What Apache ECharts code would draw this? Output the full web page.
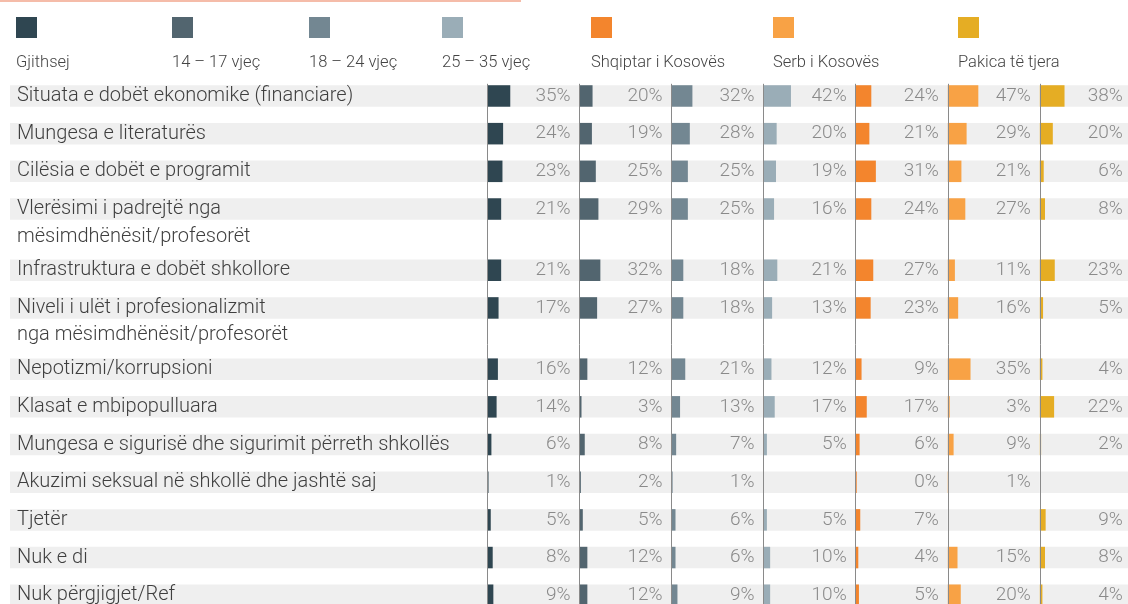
<!DOCTYPE html>
<html><head><meta charset="utf-8">
<script src="https://cdn.jsdelivr.net/npm/echarts@6/dist/echarts.min.js"></script>
<style>html,body{margin:0;padding:0;background:#fff}#c{width:1128px;height:604px}</style>
</head><body><div id="c"></div>
<script>
// ---- data ----
const categories = [
  'Situata e dobët ekonomike (financiare)',
  'Mungesa e literaturës',
  'Cilësia e dobët e programit',
  'Vlerësimi i padrejtë nga\nmësimdhënësit/profesorët',
  'Infrastruktura e dobët shkollore',
  'Niveli i ulët i profesionalizmit\nnga mësimdhënësit/profesorët',
  'Nepotizmi/korrupsioni',
  'Klasat e mbipopulluara',
  'Mungesa e sigurisë dhe sigurimit përreth shkollës',
  'Akuzimi seksual në shkollë dhe jashtë saj',
  'Tjetër',
  'Nuk e di',
  'Nuk përgjigjet/Ref'
];
const seriesNames = ['Gjithsej', '14 – 17 vjeç', '18 – 24 vjeç', '25 – 35 vjeç', 'Shqiptar i Kosovës', 'Serb i Kosovës', 'Pakica të tjera'];
const gjithsej = [35, 24, 23, 21, 21, 17, 16, 14, 6, 1, 5, 8, 9];
const age1417  = [20, 19, 25, 29, 32, 27, 12, 3, 8, 2, 5, 12, 12];
const age1824  = [32, 28, 25, 25, 18, 18, 21, 13, 7, 1, 6, 6, 9];
const age2535  = [42, 20, 19, 16, 21, 13, 12, 17, 5, null, 5, 10, 10];
const shqiptar = [24, 21, 31, 24, 27, 23, 9, 17, 6, 0, 7, 4, 5];
const serb     = [47, 29, 21, 27, 11, 16, 35, 3, 9, 1, null, 15, 20];
const pakica   = [38, 20, 6, 8, 23, 5, 4, 22, 2, null, 9, 8, 4];
const allValues = [gjithsej, age1417, age1824, age2535, shqiptar, serb, pakica];

// ---- style / layout ----
const colors = ['#2f4651', '#52656f', '#738792', '#9aadb7', '#f3852d', '#f8a245', '#e5ad24'];
const legendX = [16, 172, 309, 442, 591, 773, 958];
const FONT = 'Roboto';
const SLOT = 4.71, LEAD = 2, SINGLE = 8, DOUBLE = 13;
const GRID_TOP = 84.2;
const COL_X0 = 487.5, COL_W = 92.05, XMAX = 141.5;
const BAR_H = 21.5, LINE_H = 27.5;

// slot layout derived from label line counts
const slotIdx = [];
let s = LEAD;
categories.forEach(c => { slotIdx.push(s); s += c.includes('\n') ? DOUBLE : SINGLE; });
const totalSlots = s;
const slotCats = Array.from({length: totalSlots}, (_, i) => 's' + i);
const gridH = totalSlots * SLOT;

const grids = [], xAxes = [], yAxes = [], series = [];
// label column
grids.push({left: 10, top: GRID_TOP, width: COL_X0 - 10, height: gridH, outerBoundsMode: 'none'});
xAxes.push({gridIndex: 0, type: 'value', min: 0, max: 1, show: false});
yAxes.push({gridIndex: 0, type: 'category', data: slotCats, inverse: true, show: false});
series.push({
  type: 'bar', xAxisIndex: 0, yAxisIndex: 0, barWidth: BAR_H, silent: true,
  itemStyle: {color: '#efefef'},
  data: categories.map((c, i) => [1, slotIdx[i]]),
  label: {
    show: true, position: [7, BAR_H / 2 - LINE_H / 2], align: 'left', verticalAlign: 'top',
    fontFamily: FONT, fontWeight: 300, fontSize: 20, lineHeight: LINE_H, color: '#3f3f3f',
    formatter: p => categories[p.dataIndex]
  }
});
allValues.forEach((vals, c) => {
  const gi = c + 1;
  grids.push({left: COL_X0 + COL_W * c, top: GRID_TOP, width: COL_W, height: gridH, outerBoundsMode: 'none'});
  xAxes.push({gridIndex: gi, type: 'value', min: 0, max: XMAX, show: false});
  yAxes.push({gridIndex: gi, type: 'category', data: slotCats, inverse: true, z: 10,
    axisLine: {show: true, lineStyle: {color: '#8a8a8a', width: 1}},
    axisTick: {show: false}, axisLabel: {show: false}, splitLine: {show: false}});
  series.push({
    type: 'bar', xAxisIndex: gi, yAxisIndex: gi, barWidth: BAR_H, silent: true,
    itemStyle: {color: '#efefef'},
    data: vals.map((v, i) => [XMAX, slotIdx[i]]),
    label: {
      show: true, position: 'insideRight', distance: 9,
      fontFamily: FONT, fontWeight: 300, fontSize: 19, color: '#8a8a8a',
      formatter: p => vals[p.dataIndex] == null ? '' : vals[p.dataIndex] + '%'
    }
  });
  series.push({
    name: seriesNames[c], type: 'bar', xAxisIndex: gi, yAxisIndex: gi, barWidth: BAR_H,
    barGap: '-100%', barMinHeight: 1, silent: true,
    itemStyle: {color: colors[c]},
    data: vals.map((v, i) => [v, slotIdx[i]])
  });
});

const graphic = [{type: 'line', shape: {x1: 0, y1: 1, x2: 521, y2: 1}, style: {stroke: '#f2a68c', lineWidth: 1.5}}];
seriesNames.forEach((n, i) => {
  graphic.push({type: 'rect', shape: {x: legendX[i], y: 17, width: 21, height: 21}, style: {fill: colors[i]}});
  graphic.push({type: 'text', x: legendX[i], y: 63, style: {text: n, fill: '#444', font: '300 16.5px ' + FONT, verticalAlign: 'middle'}});
});

const chart = echarts.init(document.getElementById('c'), null, {renderer: 'canvas'});
chart.setOption({animation: false, grid: grids, xAxis: xAxes, yAxis: yAxes, series: series, graphic: graphic});
</script></body></html>
